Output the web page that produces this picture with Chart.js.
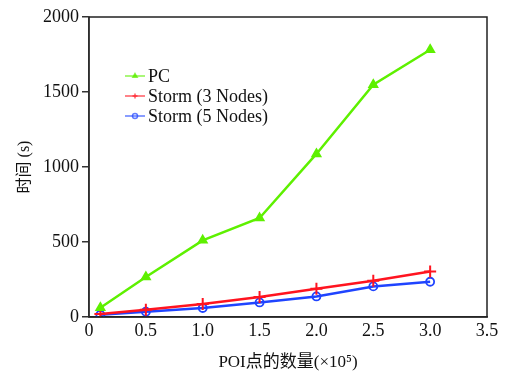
<!DOCTYPE html>
<html>
<head>
<meta charset="utf-8">
<script src="https://cdn.jsdelivr.net/npm/chart.js@4.4.1/dist/chart.umd.min.js"></script>
<style>
  html, body { margin: 0; padding: 0; background: #fff; }
  #wrap { width: 521px; height: 377px; }
</style>
</head>
<body>
<div id="wrap"><canvas id="timeChart" width="521" height="377"></canvas></div>
<script>
// POI数量 (×10^5)
const poiCounts = [0.1, 0.5, 1.0, 1.5, 2.0, 2.5, 3.0];
// 时间 (s)
const pcTimes = [62, 267, 511, 660, 1087, 1549, 1782];
const storm3Times = [20, 49, 87, 133, 189, 242, 304];
const storm5Times = [15, 35, 60, 97, 137, 204, 235];
const seriesNames = ['PC', 'Storm (3 Nodes)', 'Storm (5 Nodes)'];
const yTicks = [0, 500, 1000, 1500, 2000];
const xTicks = [0, 0.5, 1.0, 1.5, 2.0, 2.5, 3.0, 3.5];

const serif = "'Liberation Serif', 'Times New Roman', 'Noto Sans CJK SC', serif";

function toPoints(values) {
    return poiCounts.map((x, i) => ({ x: x, y: values[i] }));
}

// Rahmen um den Plotbereich
const frame = {
    id: 'frame',
    afterDraw(chart) {
        const a = chart.chartArea;
        const ctx = chart.ctx;
        ctx.save();
        ctx.strokeStyle = '#222';
        ctx.lineWidth = 1.5;
        ctx.strokeRect(a.left, a.top, a.right - a.left, a.bottom - a.top);
        ctx.restore();
    }
};

// Legende im Plot
const innerLegend = {
    id: 'innerLegend',
    afterDraw(chart) {
        const ctx = chart.ctx;
        ctx.save();
        ctx.font = '18px ' + serif;
        ctx.textBaseline = 'middle';
        chart.data.datasets.forEach((ds, i) => {
            const y = 76 + i * 20;
            ctx.strokeStyle = ds.borderColor;
            ctx.fillStyle = ds.backgroundColor;
            ctx.globalAlpha = 0.7;
            ctx.lineWidth = 1.5;
            ctx.beginPath();
            ctx.moveTo(125, y);
            ctx.lineTo(145, y);
            ctx.stroke();
            Chart.helpers.drawPoint(ctx, {
                pointStyle: ds.pointStyle, radius: 2.5, rotation: 0, borderWidth: 1.2
            }, 135, y);
            ctx.globalAlpha = 1;
            ctx.fillStyle = '#111';
            ctx.fillText(ds.label, 148, y + 1);
        });
        ctx.restore();
    }
};

window.onload = function() {
    const ctx = document.getElementById('timeChart').getContext('2d');
    new Chart(ctx, {
        type: 'line',
        data: {
            datasets: [{
                label: seriesNames[0],
                data: toPoints(pcTimes),
                borderColor: '#5ef000',
                backgroundColor: '#5ef000',
                pointStyle: 'triangle',
                pointRadius: 4,
                borderWidth: 2.5
            }, {
                label: seriesNames[1],
                data: toPoints(storm3Times),
                borderColor: '#ff1420',
                backgroundColor: '#ff1420',
                pointStyle: 'cross',
                pointRadius: 6,
                pointBorderWidth: 2,
                borderWidth: 2.5
            }, {
                label: seriesNames[2],
                data: toPoints(storm5Times),
                borderColor: '#1f44ff',
                backgroundColor: 'rgba(0,0,0,0)',
                pointStyle: 'circle',
                pointRadius: 4,
                pointBorderWidth: 1.8,
                borderWidth: 2.5
            }]
        },
        options: {
            responsive: false,
            animation: false,
            layout: { padding: { top: 17, right: 34, left: 0, bottom: 0 } },
            plugins: {
                legend: { display: false },
                tooltip: { enabled: false }
            },
            scales: {
                x: {
                    type: 'linear',
                    min: 0,
                    max: 3.5,
                    afterBuildTicks: s => { s.ticks = xTicks.map(v => ({ value: v })); },
                    afterFit: s => { s.height = 60; },
                    grid: { display: false, drawTicks: false },
                    border: { color: '#333', width: 1.5 },
                    ticks: {
                        padding: 3,
                        color: '#111',
                        font: { family: serif, size: 18 },
                        callback: v => v === 0 ? '0' : v.toFixed(1)
                    },
                    title: {
                        display: true,
                        text: 'POI点的数量(×10⁵)',
                        color: '#111',
                        font: { family: serif, size: 17 },
                        padding: { top: 0 }
                    }
                },
                y: {
                    min: 0,
                    max: 2000,
                    afterBuildTicks: s => { s.ticks = yTicks.map(v => ({ value: v })); },
                    afterFit: s => { s.width = 89; },
                    grid: { display: true, drawOnChartArea: false, drawTicks: true, tickLength: 7, color: '#333', lineWidth: 1.5 },
                    border: { color: '#555', width: 1.5 },
                    ticks: {
                        padding: 3,
                        color: '#111',
                        font: { family: serif, size: 18 },
                        callback: v => String(v)
                    },
                    title: {
                        display: true,
                        text: '时间 (s)',
                        color: '#111',
                        font: { family: serif, size: 16 },
                        padding: { top: 15, bottom: 0 }
                    }
                }
            }
        },
        plugins: [frame, innerLegend]
    });
};
</script>
</body>
</html>
